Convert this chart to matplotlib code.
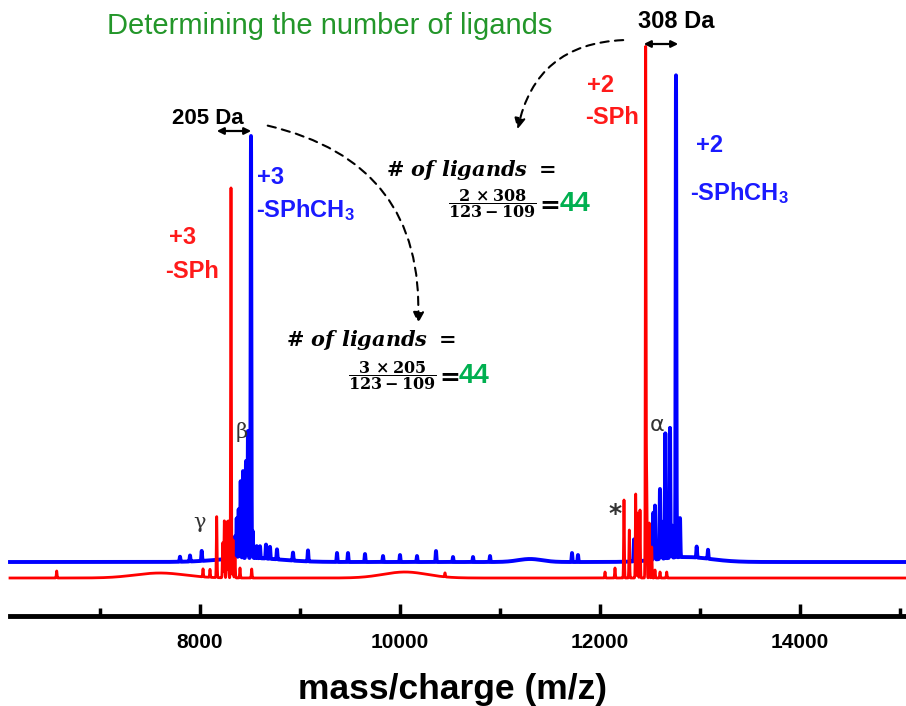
import numpy as np
import matplotlib
matplotlib.use("Agg")
import matplotlib.pyplot as plt
from matplotlib.patches import FancyArrowPatch

plt.rcParams['mathtext.fontset'] = 'custom'
plt.rcParams['mathtext.rm'] = 'Liberation Sans:bold'
plt.rcParams['mathtext.sf'] = 'Liberation Sans:bold'
plt.rcParams['mathtext.bf'] = 'DejaVu Serif:bold'
plt.rcParams['mathtext.it'] = 'DejaVu Serif:bold:italic'

# ---------------- data ----------------
mz_start, mz_end = 6100, 15060
major_ticks = [8000, 10000, 12000, 14000]
minor_ticks = [7000, 9000, 11000, 13000, 15000]

# -SPhCH3 (blue) spectrum: sharp peaks (m/z, relative intensity)
blue_peak_mz = [8510, 8480, 8460, 8430, 8407, 8387, 8367, 8350, 8527, 8567,
                8660, 8700, 8770, 8017, 7900, 7800, 8600, 8930,
                9080, 9370, 9480, 9650, 9830, 10000, 10170, 10360, 10530,
                10730, 10900, 11720, 11780,
                12760, 12700, 12653, 12600, 12550, 12533, 12800, 12340,
                12493, 12620, 12720, 12967, 13080]
blue_peak_int = [422, 127, 97, 87, 77, 49, 40, 22, 27, 12,
                 14, 12, 10, 10, 6, 5, 12, 8,
                 11, 9, 9, 8, 6, 7, 6, 11, 5,
                 5, 6, 9, 7,
                 482, 130, 125, 70, 54, 47, 39, 22,
                 32, 37, 32, 11, 9]
blue_hump_mz = [8500, 11300, 12850]
blue_hump_int = [4, 3, 5]
blue_hump_sd = [300, 120, 250]

# -SPh (red) spectrum
red_peak_mz = [8310, 8167, 8243, 8267, 8283, 8227, 8330, 8350, 8400, 8517,
               8030, 8100, 6567,
               12457, 12240, 12293, 12357, 12377, 12400, 12467, 12493,
               12517, 12550, 12600, 12667, 12050, 12150, 10450]
red_peak_int = [390, 61, 57, 56, 57, 35, 38, 20, 10, 9,
                8, 8, 7,
                530, 78, 48, 84, 65, 68, 95, 55,
                31, 8, 6, 6, 6, 10, 4]
red_hump_mz = [7600, 10050]
red_hump_int = [5, 6]
red_hump_sd = [250, 220]

mz = np.arange(mz_start, mz_end, 1.0)


def trace(p_mz, p_int, h_mz, h_int, h_sd, width=3.5):
    y = np.zeros_like(mz)
    for c, h in zip(p_mz, p_int):
        y += h * np.exp(-0.5 * ((mz - c) / width) ** 2)
    for c, h, s in zip(h_mz, h_int, h_sd):
        y += h * np.exp(-0.5 * ((mz - c) / s) ** 2)
    return y


blue = trace(blue_peak_mz, blue_peak_int, blue_hump_mz, blue_hump_int, blue_hump_sd)
red = trace(red_peak_mz, red_peak_int, red_hump_mz, red_hump_int, red_hump_sd)

# ---------------- figure ----------------
W, H = 906, 706
fig = plt.figure(figsize=(W / 100, H / 100), dpi=100)
ax = fig.add_axes([0, 0, 1, 1])
ax.set_xlim(6000, 6000 + 10 * W)
ax.set_ylim(0, H)


def X(px):
    return 6000 + 10 * px


def Y(py):
    return H - py


blue_off, red_off = H - 562, H - 578
ax.plot(mz, blue + blue_off, color='#0000ff', lw=2.8, zorder=2)
ax.plot(mz, red + red_off, color='#ff0000', lw=2.0, zorder=3)

for s in ['top', 'left', 'right']:
    ax.spines[s].set_visible(False)
ax.spines['bottom'].set_position(('data', Y(616)))
ax.spines['bottom'].set_bounds(mz_start, mz_end)
ax.spines['bottom'].set_linewidth(3.5)
ax.set_yticks([])
ax.set_xticks(major_ticks)
ax.set_xticks(minor_ticks, minor=True)
ax.set_xticklabels([str(t) for t in major_ticks])
ax.tick_params(axis='x', which='major', direction='in', length=9, width=2.5,
               pad=12, labelsize=15)
ax.tick_params(axis='x', which='minor', direction='in', length=6, width=2.5)
for lb in ax.get_xticklabels():
    lb.set_fontweight('bold')
    lb.set_family('Liberation Sans')
ax.set_xlabel('mass/charge (m/z)', fontsize=25.5, fontweight='bold',
              family='Liberation Sans', labelpad=15)

sans = 'Liberation Sans'
# title
ax.text(X(330), Y(26), 'Determining the number of ligands', ha='center', va='center',
        fontsize=21, color='#23962a', family=sans)

# Da labels and arrows
ax.text(X(208), Y(118), '205 Da', ha='center', va='center', fontsize=16,
        fontweight='bold', family=sans)
ax.annotate('', xy=(X(254), Y(131)), xytext=(X(214), Y(131)),
            arrowprops=dict(arrowstyle='<|-|>', lw=1.6, color='k', mutation_scale=10))
ax.text(X(676), Y(22), '308 Da', ha='center', va='center', fontsize=17,
        fontweight='bold', family=sans)
ax.annotate('', xy=(X(681), Y(44)), xytext=(X(641), Y(44)),
            arrowprops=dict(arrowstyle='<|-|>', lw=1.6, color='k', mutation_scale=10))

# peak labels
red_c, blue_c = '#ff1a1a', '#1a1aff'
fs_lab = 17
ax.text(X(169), Y(238), '+3', ha='left', va='center', fontsize=fs_lab, fontweight='bold',
        color=red_c, family=sans)
ax.text(X(165), Y(272), '-SPh', ha='left', va='center', fontsize=fs_lab, fontweight='bold',
        color=red_c, family=sans)
ax.text(X(257), Y(178), '+3', ha='left', va='center', fontsize=fs_lab, fontweight='bold',
        color=blue_c, family=sans)
ax.text(X(256), Y(210), r'-SPhCH$_{\mathsf{3}}$', ha='left', va='center', fontsize=fs_lab,
        fontweight='bold', color=blue_c, family=sans)
ax.text(X(587), Y(86), '+2', ha='left', va='center', fontsize=fs_lab, fontweight='bold',
        color=red_c, family=sans)
ax.text(X(585), Y(117), '-SPh', ha='left', va='center', fontsize=fs_lab, fontweight='bold',
        color=red_c, family=sans)
ax.text(X(696), Y(145), '+2', ha='left', va='center', fontsize=fs_lab, fontweight='bold',
        color=blue_c, family=sans)
ax.text(X(690), Y(193), r'-SPhCH$_{\mathsf{3}}$', ha='left', va='center', fontsize=fs_lab,
        fontweight='bold', color=blue_c, family=sans)

# greek markers
grey = '#333333'
ax.text(X(199), Y(522), 'γ', ha='center', va='center', fontsize=15, color=grey,
        family='DejaVu Serif')
ax.text(X(242), Y(432), 'β', ha='center', va='center', fontsize=15, color=grey,
        family='DejaVu Serif')
ax.text(X(657), Y(425), 'α', ha='center', va='center', fontsize=16, color=grey)
ax.text(X(615), Y(514), '*', ha='center', va='center', fontsize=18, color=grey,
        fontweight='bold')


# formulas
def formula(x_left, y_head, frac_cx, y_line, num, eq_x, n_x):
    ax.text(X(x_left), Y(y_head), r'$\mathbf{\#}\ \mathit{of\ ligands}\ \mathbf{=}$',
            ha='left', va='center', fontsize=15)
    ax.text(X(frac_cx), Y(y_line), r'$\mathbf{\dfrac{%s}{123-109}}$' % num,
            ha='center', va='center', fontsize=11.5)
    ax.text(X(eq_x), Y(y_line), r'$\mathbf{=}$', ha='center', va='center', fontsize=18)
    ax.text(X(n_x), Y(y_line), '44', ha='left', va='center', fontsize=20,
            fontweight='bold', color='#00b050', family=sans)


formula(386, 170, 492, 204, r'2\,\times 308', 547, 560)
formula(286, 340, 392, 376, r'3\,\times 205', 447, 459)

# dashed curved arrows
a1 = FancyArrowPatch((X(265), Y(125)), (X(418), Y(326)), connectionstyle='arc3,rad=-0.42',
                     arrowstyle='-|>', mutation_scale=16, lw=1.5, color='k',
                     linestyle=(0, (4, 3)))
ax.add_patch(a1)
a2 = FancyArrowPatch((X(626), Y(40)), (X(517), Y(132)), connectionstyle='arc3,rad=0.4',
                     arrowstyle='-|>', mutation_scale=16, lw=1.5, color='k',
                     linestyle=(0, (4, 3)))
ax.add_patch(a2)

fig.savefig('out.png', dpi=100)
